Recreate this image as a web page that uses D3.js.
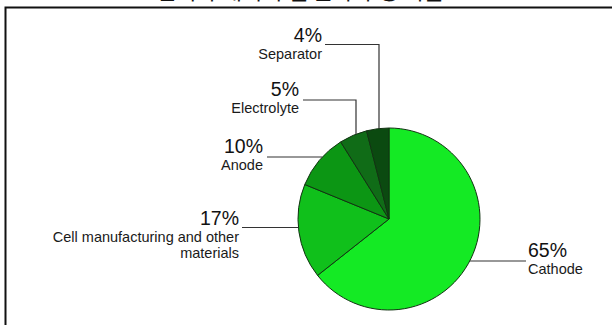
<!DOCTYPE html>
<html>
<head>
<meta charset="utf-8">
<script src="https://cdn.jsdelivr.net/npm/d3@7"></script>
<style>
  body { margin: 0; background: #fff; }
  svg { display: block; }
</style>
</head>
<body>
<script>
// data, clockwise from 12 o'clock
const categories = ["Cathode", "Cell manufacturing and other materials", "Anode", "Electrolyte", "Separator"];
const shares = [65, 17, 10, 5, 4];
const sliceColors = ["#14ea24", "#10c01b", "#0c9614", "#106c17", "#0b4a10"];
const title = "전기차 배터리 셀 원가 구성 비율";

const width = 612, height = 325;
const cx = 389, cy = 219, r = 91;

const svg = d3.select("body").append("svg")
    .attr("width", width)
    .attr("height", height);

// title is cut off by the top edge in the source picture
svg.append("text")
    .attr("x", 300).attr("y", -1.5)
    .attr("text-anchor", "middle")
    .attr("font-family", "Noto Sans CJK KR")
    .attr("font-size", 22)
    .attr("fill", "#111")
    .text(title);

// frame
svg.append("path")
    .attr("d", "M5.5," + height + "V7.5H" + width)
    .attr("fill", "none")
    .attr("stroke", "#111")
    .attr("stroke-width", 2);

const pie = d3.pie().sort(null).value(d => d);
const arcs = pie(shares);
const arc = d3.arc().innerRadius(0).outerRadius(r);

const chart = svg.append("g").attr("transform", "translate(" + cx + "," + cy + ")");
chart.selectAll("path")
    .data(arcs)
    .enter()
    .append("path")
    .attr("d", arc)
    .attr("fill", (d, i) => sliceColors[i])
    .attr("stroke", "#123312")
    .attr("stroke-width", 1);

// label layout: text anchor point, side, leader
// kind "h": horizontal leader at y; kind "v": elbow going down at x
const labels = [
  {i: 0, tx: 528, ty: 257, anchor: "start", kind: "h", ly: 261, lx: 526, lines: ["Cathode"]},
  {i: 1, tx: 239, ty: 225, anchor: "end", kind: "h", ly: 227.5, lx: 242, lines: ["Cell manufacturing and other", "materials"]},
  {i: 2, tx: 263, ty: 153, anchor: "end", kind: "h", ly: 157, lx: 267, lines: ["Anode"]},
  {i: 3, tx: 299, ty: 96, anchor: "end", kind: "v", ly: 100, lx: 303, vx: 356, lines: ["Electrolyte"]},
  {i: 4, tx: 322, ty: 42, anchor: "end", kind: "v", ly: 44.5, lx: 325, vx: 379, lines: ["Separator"]}
];

const edgeX = (y, side) => cx + side * Math.sqrt(r * r - (y - cy) * (y - cy));
const edgeY = x => cy - Math.sqrt(r * r - (x - cx) * (x - cx));

const lab = svg.append("g");
svg.append("clipPath").attr("id", "clip")
  .append("rect").attr("x", 53).attr("y", 0).attr("width", width).attr("height", height);
lab.attr("clip-path", "url(#clip)");

labels.forEach(l => {
  let d;
  if (l.kind === "h") {
    const side = l.anchor === "start" ? 1 : -1;
    d = "M" + l.lx + "," + l.ly + "H" + edgeX(l.ly, side);
  } else {
    d = "M" + l.lx + "," + l.ly + "H" + l.vx + "V" + edgeY(l.vx);
  }
  lab.append("path")
      .attr("d", d)
      .attr("fill", "none")
      .attr("stroke", "#333")
      .attr("stroke-width", 1.2);

  lab.append("text")
      .attr("x", l.tx).attr("y", l.ty)
      .attr("text-anchor", l.anchor)
      .attr("font-family", "Liberation Sans, Arial, sans-serif")
      .attr("font-size", 19.5)
      .attr("fill", "#111")
      .text(shares[l.i] + "%");

  l.lines.forEach((t, k) => {
    lab.append("text")
        .attr("x", l.tx).attr("y", l.ty + 17 + k * 16)
        .attr("text-anchor", l.anchor)
        .attr("font-family", "Liberation Sans, Arial, sans-serif")
        .attr("font-size", 14.5)
        .attr("fill", "#1a1a1a")
        .text(t);
  });
});
</script>
</body>
</html>
